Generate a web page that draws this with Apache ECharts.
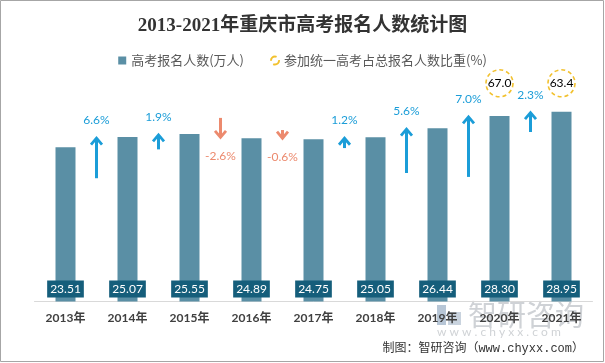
<!DOCTYPE html>
<html>
<head>
<meta charset="utf-8">
<script src="https://cdn.jsdelivr.net/npm/echarts@6/dist/echarts.min.js"></script>
<style>
html,body{margin:0;padding:0;background:#fff;}
#c{width:605px;height:363px;}
</style>
</head>
<body>
<div id="c"></div>
<script>
// ---- data ----
const years = ['2013年','2014年','2015年','2016年','2017年','2018年','2019年','2020年','2021年'];
const applicants = [23.51, 25.07, 25.55, 24.89, 24.75, 25.05, 26.44, 28.30, 28.95];
// year-on-year growth (%) for 2014..2021
const growthRates = [6.6, 1.9, -2.6, -0.6, 1.2, 5.6, 7.0, 2.3];
// arrow tail level (in 万人 units) for 2014..2021
const arrowTails = [18.8, 23.2, 28.0, 26.15, 23.4, 19.6, 19.0, 25.85];
// share of unified exam takers (%)
const shareYears = ['2020年', '2021年'];
const shareValues = [67.0, 63.4];

const barName = '高考报名人数(万人)';
const shareName = '参加统一高考占总报名人数比重(%)';

const arrowData = growthRates.map((g, i) => [i + 1, arrowTails[i], applicants[i + 1], g]);
const shareData = shareYears.map((y, i) => [years.indexOf(y), shareValues[i]]);

const chart = echarts.init(document.getElementById('c'), null, {renderer: 'canvas'});

const option = {
  backgroundColor: '#fff',
  animation: false,
  title: {
    text: '2013-2021年重庆市高考报名人数统计图',
    left: 'center',
    top: 12,
    textStyle: {
      fontFamily: "'Liberation Serif', 'Noto Sans CJK SC'",
      fontSize: 19,
      fontWeight: 'bold',
      color: '#333333'
    }
  },
  legend: {
    top: 49,
    left: 'center',
    itemWidth: 8,
    itemHeight: 8,
    itemGap: 26,
    textStyle: {fontFamily: "'Noto Sans CJK SC'", fontSize: 13, color: '#595959'},
    data: [
      {name: barName, icon: 'rect', itemStyle: {color: '#5a8fa5'}},
      {name: shareName, icon: 'circle', itemStyle: {color: 'rgba(0,0,0,0)', borderColor: '#f2c12e', borderWidth: 2, borderType: 'dashed'}}
    ]
  },
  grid: {left: 34.5, right: 12.5, top: 72, bottom: 61.5, containLabel: false},
  xAxis: {
    type: 'category',
    data: years,
    axisLine: {lineStyle: {color: '#d9d9d9', width: 1}},
    axisTick: {show: false},
    axisLabel: {
      margin: 11,
      fontFamily: "Lato, 'Noto Sans CJK SC'",
      fontSize: 12,
      fontWeight: 'bold',
      color: '#404040'
    }
  },
  yAxis: {
    type: 'value',
    min: 0,
    max: 35,
    show: false,
    splitLine: {show: false}
  },
  series: [
    {
      name: barName,
      type: 'bar',
      data: applicants,
      barWidth: 20,
      itemStyle: {color: '#5a8fa5'},
      label: {
        show: true,
        position: 'insideBottom',
        distance: 4,
        formatter: p => p.value.toFixed(2),
        color: '#ffffff',
        backgroundColor: '#155e7b',
        padding: [3, 3, 2, 3],
        fontFamily: 'Lato',
        fontSize: 12
      },
      z: 2
    },
    {
      name: 'growth',
      type: 'custom',
      data: arrowData,
      z: 3,
      renderItem: function (params, api) {
        const idx = api.value(0);
        const tail = api.value(1);
        const head = api.value(2);
        const g = api.value(3);
        const band = api.size([1, 0])[0];
        const pH = api.coord([idx, head]);
        const pT = api.coord([idx, tail]);
        const x = pH[0] - band / 2;
        const up = g >= 0;
        const color = up ? '#1b9dd8' : '#ec8a6e';
        const s = up ? 1 : -1;
        const hy = pH[1];
        const children = [];
        if (Math.abs(pT[1] - hy) > 9) {
          children.push({
            type: 'line',
            shape: {x1: x, y1: pT[1], x2: x, y2: hy + s * 1},
            style: {stroke: color, lineWidth: 3}
          });
        }
        children.push({
          type: 'polyline',
          shape: {points: [[x - 5.5, hy + s * 7.5], [x, hy + s * 1], [x + 5.5, hy + s * 7.5]]},
          style: {stroke: color, lineWidth: 2.8, fill: null, lineJoin: 'miter'}
        });
        children.push({
          type: 'text',
          style: {
            text: (g > 0 ? '' : '') + g.toFixed(1) + '%',
            x: x,
            y: up ? hy - 17 : hy + 18,
            textAlign: 'center',
            textVerticalAlign: 'middle',
            fill: color,
            fontFamily: 'Lato',
            fontSize: 12
          }
        });
        return {type: 'group', children: children};
      }
    },
    {
      name: shareName,
      type: 'custom',
      data: shareData,
      z: 3,
      renderItem: function (params, api) {
        const p = api.coord([api.value(0), 0]);
        const cy = params.coordSys.y + 11.3;
        return {
          type: 'group',
          children: [
            {
              type: 'circle',
              shape: {cx: p[0], cy: cy, r: 13.5},
              style: {fill: '#ffffff', stroke: '#f2c12e', lineWidth: 1.6, lineDash: [4, 3]}
            },
            {
              type: 'text',
              style: {
                text: api.value(1).toFixed(1),
                x: p[0], y: cy,
                textAlign: 'center', textVerticalAlign: 'middle',
                fill: '#000000', fontFamily: 'Lato', fontSize: 12
              }
            }
          ]
        };
      }
    }
  ],
  graphic: [
    {
      type: 'rect', z: -10, silent: true,
      shape: {x: 0.5, y: 0.5, width: 603, height: 361},
      style: {fill: null, stroke: '#a6a6a6', lineWidth: 1}
    },
    {
      type: 'group', z: -5, silent: true,
      children: [
        {type: 'rect', shape: {x: 437, y: 305, width: 9, height: 20}, style: {fill: '#b7c6d6'}},
        {type: 'rect', shape: {x: 448, y: 312, width: 13, height: 13}, style: {fill: '#c9d3de'}},
        {type: 'text', style: {text: '智研咨询', x: 468, y: 315, textVerticalAlign: 'middle', fill: '#cfd2d6', fontFamily: "'Noto Sans CJK SC'", fontSize: 29}},
        {type: 'text', style: {text: 'w w w . c h y x x . c o m', x: 437, y: 332, textVerticalAlign: 'middle', fill: '#d0d3d6', fontFamily: 'Lato', fontSize: 12}}
      ]
    },
    {
      type: 'text', z: 10, silent: true,
      style: {
        text: '制图：智研咨询（www.chyxx.com）',
        x: 584, y: 349,
        textAlign: 'right', textVerticalAlign: 'middle',
        fill: '#333333',
        fontFamily: "'Liberation Mono', 'Noto Sans CJK SC'",
        fontSize: 12
      }
    }
  ]
};

chart.setOption(option);
</script>
</body>
</html>
